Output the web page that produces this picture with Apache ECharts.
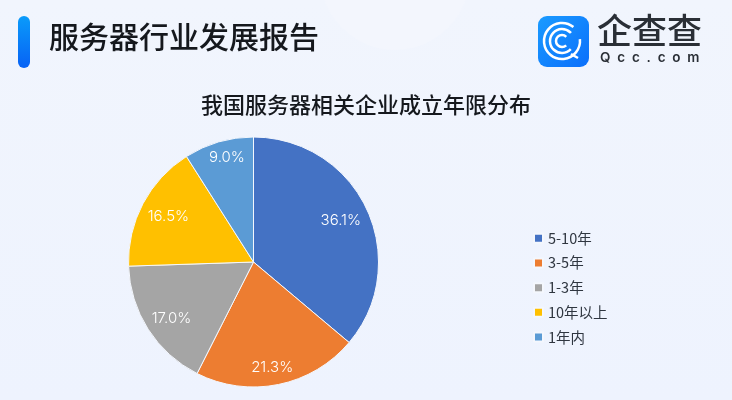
<!DOCTYPE html>
<html>
<head>
<meta charset="utf-8">
<style>
html, body { margin: 0; padding: 0; background: #eff4fd; }
#main { width: 732px; height: 400px; }
</style>
<script src="https://cdn.jsdelivr.net/npm/echarts@6/dist/echarts.min.js"></script>
</head>
<body>
<div id="main"></div>
<script>
var categories = ['5-10年', '3-5年', '1-3年', '10年以上', '1年内'];
var shares = [36.1, 21.3, 17.0, 16.5, 9.0];
var colors = ['#4472C4', '#ED7D31', '#A5A5A5', '#FFC000', '#5B9BD5'];
var reportTitle = '服务器行业发展报告';
var chartTitle = '我国服务器相关企业成立年限分布';

var cjk = '"Noto Sans CJK SC"';
var pieData = categories.map(function (name, i) {
    return { name: name, value: shares[i] };
});
// 标签微调
var labelShift = [
    { dx: -2, dy: 0 },
    { dx: -1, dy: 9 },
    { dx: 1, dy: 4 },
    { dx: 2, dy: 0 },
    { dx: 1, dy: -10 }
];

var chart = echarts.init(document.getElementById('main'));
var option = {
    animation: false,
    color: colors,
    backgroundColor: new echarts.graphic.LinearGradient(0, 0, 0, 1, [
        { offset: 0, color: '#f1f5fd' },
        { offset: 1, color: '#eef3fe' }
    ]),
    legend: {
        orient: 'vertical',
        left: 528,
        top: 226,
        icon: 'rect',
        itemWidth: 9,
        itemHeight: 9,
        itemGap: 10.2,
        selectedMode: false,
        textStyle: {
            fontFamily: cjk,
            fontSize: 14.5,
            color: '#2f3640'
        },
        data: categories
    },
    graphic: [
        // 顶部淡色光斑
        { type: 'circle', silent: true, z: 0, shape: { cx: 395, cy: -25, r: 75 }, style: { fill: '#f3f6fd' } },
        // 标题左侧竖条
        {
            type: 'rect', z: 1,
            shape: { x: 18, y: 16, width: 12, height: 52, r: 6 },
            style: {
                fill: new echarts.graphic.LinearGradient(0, 0, 0, 1, [
                    { offset: 0, color: '#0a9bfa' },
                    { offset: 1, color: '#0762f5' }
                ])
            }
        },
        {
            type: 'text', z: 1, left: 49, top: 22,
            style: { text: reportTitle, fontFamily: cjk, fontSize: 30, fontWeight: 500, fill: '#15181d' }
        },
        {
            type: 'text', z: 1, left: 201, top: 94,
            style: { text: chartTitle, fontFamily: cjk, fontSize: 22, fontWeight: 500, fill: '#15181d' }
        },
        // logo
        {
            type: 'rect', z: 1,
            shape: { x: 538, y: 16, width: 51, height: 51, r: 9 },
            style: {
                fill: new echarts.graphic.LinearGradient(0, 0, 1, 1, [
                    { offset: 0, color: '#1a9bff' },
                    { offset: 1, color: '#0b6ffb' }
                ])
            }
        },
        { type: 'arc', z: 2, shape: { cx: 562, cy: 41, r: 18, startAngle: -0.1, endAngle: 5.4, clockwise: true }, style: { stroke: '#fff', lineWidth: 2.5, fill: null } },
        { type: 'arc', z: 2, shape: { cx: 562, cy: 41, r: 12, startAngle: 0.75, endAngle: 5.55, clockwise: true }, style: { stroke: '#fff', lineWidth: 2.5, fill: null } },
        { type: 'arc', z: 2, shape: { cx: 562, cy: 41, r: 6, startAngle: 0.8, endAngle: 5.5, clockwise: true }, style: { stroke: '#fff', lineWidth: 2.5, fill: null } },
        { type: 'line', z: 2, shape: { x1: 571, y1: 54, x2: 578, y2: 58 }, style: { stroke: '#fff', lineWidth: 2.5 } },
        {
            type: 'text', z: 1, left: 597, top: 13,
            style: { text: '企查查', fontFamily: cjk, fontSize: 35, fontWeight: 500, fill: '#2a2f36' }
        },
        {
            type: 'text', z: 1, left: 600, top: 51,
            style: { text: 'Q  c  c  .  c  o  m', fontFamily: 'Inter', fontSize: 13.5, fontWeight: 600, fill: '#2a2f36' }
        }
    ],
    series: [
        {
            name: '成立年限',
            type: 'pie',
            radius: [0, 125],
            center: [253.5, 262],
            startAngle: 90,
            clockwise: true,
            silent: true,
            itemStyle: { borderColor: '#f4f7fd', borderWidth: 1 },
            label: { show: false },
            labelLine: { show: false },
            data: pieData
        },
        {
            // 透明环，只用来把数值放到靠外的位置
            name: '成立年限标签',
            type: 'pie',
            radius: [66, 125],
            center: [253.5, 262],
            startAngle: 90,
            clockwise: true,
            silent: true,
            itemStyle: { color: 'transparent' },
            label: {
                show: true,
                position: 'inner',
                rotate: 0,
                fontFamily: 'Inter',
                fontSize: 15,
                fontWeight: 300,
                color: '#ffffff',
                formatter: function (p) { return p.value.toFixed(1) + '%'; }
            },
            labelLine: { show: false },
            labelLayout: function (p) {
                return labelShift[p.dataIndex];
            },
            data: pieData
        }
    ]
};
chart.setOption(option);
</script>
</body>
</html>
